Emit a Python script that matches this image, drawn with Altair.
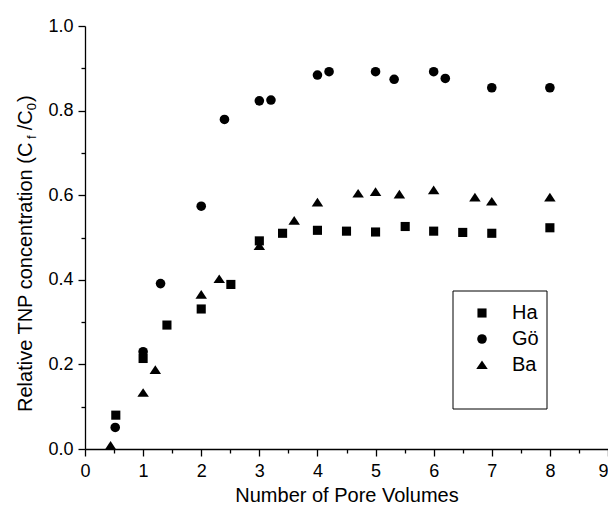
import altair as alt
import pandas as pd

# ---- data ----
series_names = ["Ha", "Gö", "Ba"]

ha_x = [0.53, 1.0, 1.41, 2.0, 2.51, 3.0, 3.4, 4.0, 4.5, 5.0, 5.51, 6.0, 6.5, 7.0, 8.0]
ha_y = [0.080, 0.214, 0.293, 0.331, 0.389, 0.492, 0.510, 0.517, 0.515, 0.513, 0.526, 0.515, 0.512, 0.510, 0.523]

go_x = [0.52, 1.0, 1.3, 2.0, 2.4, 3.0, 3.2, 4.0, 4.2, 5.0, 5.32, 6.0, 6.2, 7.0, 8.0]
go_y = [0.051, 0.230, 0.391, 0.574, 0.779, 0.823, 0.825, 0.884, 0.892, 0.892, 0.874, 0.892, 0.876, 0.854, 0.854]

ba_x = [0.44, 1.0, 1.21, 2.0, 2.31, 3.0, 3.6, 4.0, 4.7, 5.0, 5.41, 6.0, 6.71, 7.0, 8.0]
ba_y = [0.008, 0.133, 0.187, 0.365, 0.402, 0.480, 0.540, 0.583, 0.604, 0.608, 0.602, 0.612, 0.595, 0.585, 0.595]

x_ticks = [i * 0.5 for i in range(19)]
y_ticks = [round(i * 0.1, 1) for i in range(11)]

x_title = "Number of Pore Volumes"
y_title_parts = ["Relative TNP concentration (C", "f", "/C", "0", ")"]

# ---- table ----
rows = []
for name, xs, ys in [("Ha", ha_x, ha_y), ("Gö", go_x, go_y), ("Ba", ba_x, ba_y)]:
    for a, b in zip(xs, ys):
        rows.append({"x": a, "y": b, "series": name})
df = pd.DataFrame(rows)

FONT = "Liberation Sans"
W, H = 523, 423

TRIANGLE = "M0,-0.95L1.2,0.85L-1.2,0.85Z"
SQUARE = "M-0.95,-0.95L0.95,-0.95L0.95,0.95L-0.95,0.95Z"

points = alt.Chart(df).mark_point(filled=True, color="black", opacity=1, size=92).encode(
    x=alt.X(
        "x:Q",
        scale=alt.Scale(domain=[0, 9], nice=False, zero=False),
        axis=alt.Axis(
            values=x_ticks,
            labelExpr="datum.value % 1 === 0 ? '' + datum.value : ''",
            tickSize={"condition": {"test": "datum.value % 1 === 0", "value": 7}, "value": 4},
            labelAlign={"condition": {"test": "datum.value === 9", "value": "right"}, "value": "center"},
            labelOverlap=False,
            labelFlush=False,
            grid=False,
            title=x_title,
            titleFontSize=20,
            titleFontWeight="normal",
            titlePadding=5,
            labelFontSize=18,
            labelPadding=6,
        ),
    ),
    y=alt.Y(
        "y:Q",
        scale=alt.Scale(domain=[0, 1], nice=False, zero=False),
        axis=alt.Axis(
            values=y_ticks,
            labelExpr="round(datum.value * 10) % 2 === 0 ? format(datum.value, '.1f') : ''",
            tickSize={"condition": {"test": "round(datum.value * 10) % 2 === 0", "value": 7}, "value": 4},
            labelOverlap=False,
            labelFlush=False,
            grid=False,
            title=None,
            labelFontSize=18,
            labelPadding=5,
        ),
    ),
    shape=alt.Shape(
        "series:N",
        scale=alt.Scale(domain=series_names, range=[SQUARE, "circle", TRIANGLE]),
        legend=alt.Legend(
            title=None,
            orient="none",
            legendX=387,
            legendY=277,
            symbolFillColor="black",
            symbolStrokeColor="black",
            symbolStrokeWidth=0,
            symbolSize=92,
            labelFontSize=20,
            labelOffset=20,
            rowPadding=6,
            padding=0,
        ),
    ),
)

frame = alt.Chart(pd.DataFrame({"k": [0]})).mark_rect(
    fillOpacity=0, stroke="black", strokeWidth=1
).encode(
    x=alt.value(368), x2=alt.value(462), y=alt.value(265), y2=alt.value(383)
)

# rotated y-axis title built from pieces (with subscripts)
big, small = 20, 13
widths = [13.504 * big, 0.278 * small, 1.0 * big, 0.556 * small, 0.333 * big]
gaps = [3, 5, 0, 1, 0]
sizes = [big, small, big, small, big]
shifts = [0, 4, 0, 4, 0]
start = 386.0
title_layers = []
for text, w, g, s, sh in zip(y_title_parts, widths, gaps, sizes, shifts):
    title_layers.append(
        alt.Chart(pd.DataFrame({"t": [text]})).mark_text(
            angle=270, align="left", baseline="alphabetic", fontSize=s,
            font=FONT, color="black"
        ).encode(text="t:N", x=alt.value(-53 + sh), y=alt.value(start))
    )
    start -= w + g

chart = alt.layer(points, frame, *title_layers).properties(
    width=W, height=H,
    autosize=alt.AutoSizeParams(type="none"),
    padding={"left": 77, "top": 18, "right": 0, "bottom": 55},
).configure_view(stroke=None).configure_axis(
    labelFont=FONT, titleFont=FONT, labelColor="black", titleColor="black",
    domainColor="black", tickColor="black", domainWidth=1.3, tickWidth=1.3,
).configure_legend(labelFont=FONT, labelColor="black")

chart.save("out.html", embed_options={"renderer": "svg", "actions": False})
